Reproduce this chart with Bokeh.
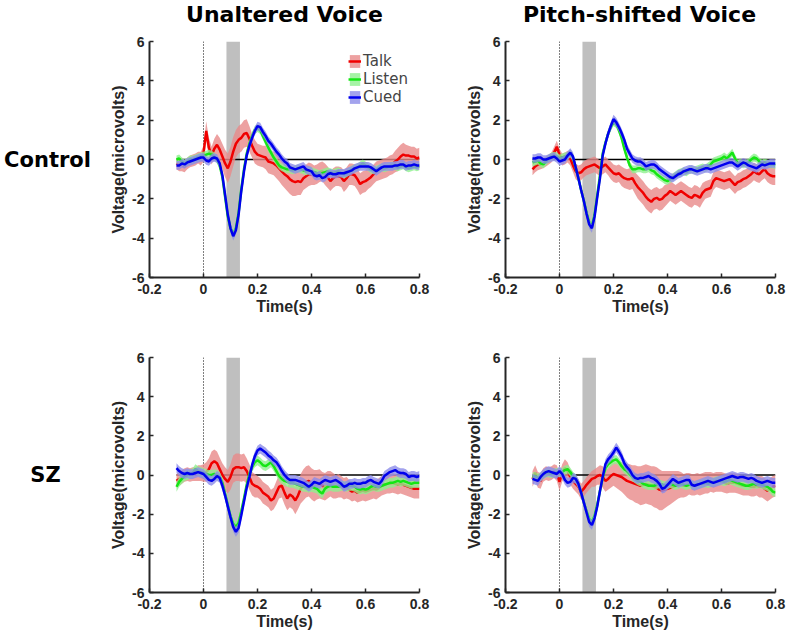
import numpy as np
from bokeh.plotting import figure
from bokeh.layouts import row, column
from bokeh.core.properties import value
from bokeh.models import Legend, LegendItem, FixedTicker, Span, BoxAnnotation, Range1d
from bokeh.embed import file_html
from bokeh.resources import INLINE

# sample times (s), one point every 10 ms
time_s = np.round(np.arange(-0.10, 0.805, 0.01), 2)

# ---- Control, unaltered voice ----
cu_talk = [
    -0.20, -0.30, -0.25, -0.35, -0.20, -0.10, -0.05, 0.00, 0.10, 0.05,
    0.30, 1.45, 0.60, 0.20, 0.55, 0.75, 0.50, 0.15, -0.20, -0.45,
    -0.10, 0.40, 0.80, 1.00, 1.10, 1.30, 1.35, 1.05, 0.70, 0.40,
    0.25, 0.20, 0.15, 0.10, -0.10, -0.15, -0.20, -0.30, -0.45, -0.60,
    -0.75, -0.85, -1.00, -1.10, -1.15, -1.10, -1.15, -0.95, -0.85, -0.75,
    -0.75, -0.80, -0.75, -0.65, -0.60, -0.75, -0.90, -1.10, -0.95, -0.85,
    -0.85, -0.90, -1.10, -0.95, -0.75, -0.75, -0.80, -1.00, -1.25, -1.15,
    -1.10, -1.00, -0.90, -0.75, -0.60, -0.55, -0.50, -0.45, -0.40, -0.30,
    -0.25, -0.10, 0.00, 0.15, 0.25, 0.20, 0.20, 0.15, 0.15, 0.05,
    0.10]
cu_talk_err = [
    0.30, 0.30, 0.35, 0.30, 0.30, 0.30, 0.30, 0.30, 0.30, 0.35,
    0.40, 0.50, 0.50, 0.45, 0.50, 0.55, 0.60, 0.65, 0.70, 0.75,
    0.75, 0.75, 0.70, 0.70, 0.70, 0.70, 0.70, 0.65, 0.60, 0.60,
    0.55, 0.55, 0.55, 0.60, 0.60, 0.60, 0.60, 0.65, 0.65, 0.70,
    0.70, 0.75, 0.75, 0.75, 0.70, 0.70, 0.65, 0.60, 0.60, 0.60,
    0.55, 0.50, 0.50, 0.50, 0.50, 0.55, 0.55, 0.50, 0.50, 0.50,
    0.50, 0.50, 0.55, 0.55, 0.55, 0.55, 0.55, 0.55, 0.55, 0.55,
    0.55, 0.50, 0.50, 0.50, 0.50, 0.50, 0.50, 0.50, 0.50, 0.50,
    0.50, 0.55, 0.60, 0.60, 0.60, 0.55, 0.50, 0.50, 0.50, 0.50,
    0.50]
cu_listen = [
    0.00, 0.05, -0.10, -0.20, -0.10, 0.00, 0.00, 0.05, 0.10, 0.15,
    0.20, 0.25, 0.30, 0.25, 0.15, 0.00, -0.30, -0.90, -1.90, -2.90,
    -3.50, -3.80, -3.50, -2.70, -1.50, -0.50, 0.30, 0.80, 1.20, 1.50,
    1.60, 1.50, 1.20, 0.90, 0.60, 0.35, 0.10, -0.10, -0.30, -0.40,
    -0.45, -0.50, -0.50, -0.55, -0.50, -0.45, -0.50, -0.55, -0.60, -0.55,
    -0.60, -0.65, -0.70, -0.75, -0.70, -0.65, -0.60, -0.65, -0.70, -0.65,
    -0.60, -0.70, -0.75, -0.70, -0.60, -0.50, -0.45, -0.40, -0.30, -0.20,
    -0.30, -0.40, -0.50, -0.55, -0.50, -0.45, -0.40, -0.45, -0.40, -0.35,
    -0.30, -0.35, -0.40, -0.35, -0.30, -0.40, -0.45, -0.40, -0.35, -0.40,
    -0.35]
cu_cued = [
    -0.30, -0.30, -0.20, -0.25, -0.15, -0.10, -0.05, 0.00, 0.05, 0.10,
    0.10, -0.05, -0.10, 0.05, 0.10, 0.05, -0.20, -0.80, -1.80, -2.80,
    -3.50, -3.90, -3.60, -2.80, -1.60, -0.60, 0.20, 0.70, 1.10, 1.45,
    1.70, 1.65, 1.40, 1.20, 0.95, 0.80, 0.60, 0.40, 0.25, 0.05,
    -0.10, -0.20, -0.40, -0.45, -0.50, -0.45, -0.40, -0.35, -0.50, -0.55,
    -0.60, -0.80, -0.85, -0.80, -0.95, -0.90, -0.75, -0.70, -0.75, -0.75,
    -0.70, -0.70, -0.70, -0.65, -0.60, -0.55, -0.45, -0.40, -0.35, -0.35,
    -0.35, -0.35, -0.40, -0.50, -0.60, -0.50, -0.40, -0.35, -0.35, -0.35,
    -0.35, -0.30, -0.30, -0.25, -0.25, -0.35, -0.30, -0.30, -0.25, -0.30,
    -0.30]

# ---- Control, pitch-shifted voice ----
cp_talk = [
    -0.50, -0.35, -0.25, -0.25, -0.20, -0.10, 0.00, 0.10, 0.35, 0.65,
    0.25, 0.00, 0.05, 0.15, 0.05, -0.30, -0.60, -0.70, -0.65, -0.50,
    -0.40, -0.35, -0.30, -0.25, -0.35, -0.45, -0.35, -0.25, -0.40, -0.55,
    -0.70, -0.75, -0.70, -0.85, -0.95, -1.00, -1.00, -0.95, -1.20, -1.40,
    -1.55, -1.70, -1.90, -2.05, -2.15, -2.00, -1.95, -2.05, -2.00, -1.85,
    -1.75, -1.60, -1.70, -1.80, -1.70, -1.60, -1.70, -1.80, -1.90, -1.95,
    -1.80, -1.85, -1.95, -1.70, -1.55, -1.50, -1.45, -1.10, -0.95, -1.00,
    -1.05, -1.10, -1.05, -1.00, -1.15, -1.30, -1.15, -1.10, -1.00, -0.95,
    -0.85, -0.75, -0.60, -0.70, -0.75, -0.60, -0.50, -0.70, -0.80, -0.85,
    -0.85]
cp_talk_err = [
    0.30, 0.30, 0.30, 0.25, 0.25, 0.25, 0.25, 0.25, 0.30, 0.30,
    0.30, 0.30, 0.30, 0.30, 0.35, 0.35, 0.40, 0.40, 0.40, 0.40,
    0.40, 0.40, 0.40, 0.40, 0.40, 0.40, 0.40, 0.40, 0.40, 0.45,
    0.45, 0.45, 0.45, 0.50, 0.50, 0.50, 0.55, 0.55, 0.55, 0.60,
    0.60, 0.60, 0.60, 0.60, 0.60, 0.55, 0.55, 0.55, 0.55, 0.55,
    0.50, 0.50, 0.50, 0.50, 0.50, 0.50, 0.50, 0.50, 0.50, 0.50,
    0.50, 0.50, 0.50, 0.50, 0.45, 0.45, 0.45, 0.45, 0.45, 0.45,
    0.45, 0.45, 0.45, 0.45, 0.45, 0.45, 0.45, 0.45, 0.45, 0.45,
    0.45, 0.45, 0.45, 0.45, 0.45, 0.45, 0.45, 0.45, 0.45, 0.45,
    0.45]
cp_listen = [
    -0.15, -0.10, -0.05, -0.20, -0.25, -0.10, 0.05, 0.15, 0.20, 0.15,
    0.05, 0.10, 0.15, 0.20, 0.30, 0.10, -0.40, -0.95, -1.55, -2.10,
    -2.70, -3.20, -3.40, -2.80, -1.80, -0.80, 0.30, 0.85, 1.30, 1.65,
    1.90, 1.80, 1.50, 1.10, 0.55, 0.10, -0.30, -0.50, -0.50, -0.45,
    -0.45, -0.50, -0.50, -0.45, -0.55, -0.60, -0.75, -0.85, -0.95, -1.05,
    -1.10, -1.00, -0.90, -0.80, -0.70, -0.65, -0.60, -0.65, -0.55, -0.50,
    -0.55, -0.50, -0.45, -0.40, -0.45, -0.35, -0.25, -0.10, -0.05, 0.00,
    0.05, 0.15, 0.05, 0.20, 0.35, 0.05, -0.20, -0.15, -0.25, -0.20,
    -0.15, 0.00, 0.10, 0.05, -0.10, -0.20, -0.15, -0.20, -0.25, -0.25,
    -0.30]
cp_cued = [
    0.05, 0.05, 0.10, 0.10, 0.00, 0.00, 0.05, 0.10, 0.15, 0.05,
    -0.10, -0.05, 0.00, 0.20, 0.35, 0.15, -0.40, -0.95, -1.55, -2.10,
    -2.75, -3.30, -3.50, -2.90, -1.90, -0.95, 0.20, 0.80, 1.30, 1.70,
    2.05, 1.90, 1.65, 1.35, 1.00, 0.55, 0.30, 0.05, -0.05, -0.10,
    -0.10, -0.20, -0.35, -0.30, -0.25, -0.25, -0.35, -0.50, -0.60, -0.70,
    -0.80, -0.90, -0.95, -0.85, -0.75, -0.70, -0.60, -0.55, -0.50, -0.50,
    -0.55, -0.60, -0.55, -0.50, -0.45, -0.45, -0.50, -0.45, -0.40, -0.35,
    -0.30, -0.25, -0.20, -0.15, -0.15, -0.25, -0.35, -0.25, -0.15, -0.20,
    -0.30, -0.35, -0.40, -0.45, -0.35, -0.25, -0.30, -0.25, -0.20, -0.20,
    -0.20]

# ---- SZ, unaltered voice ----
su_talk = [
    -0.30, -0.20, -0.10, 0.00, 0.05, 0.00, 0.05, 0.05, 0.10, 0.10,
    0.10, 0.15, 0.30, 0.60, 0.70, 0.60, 0.30, 0.00, -0.20, -0.35,
    -0.10, 0.30, 0.40, 0.40, 0.35, 0.40, 0.20, -0.10, -0.45, -0.55,
    -0.60, -0.70, -0.90, -1.00, -1.10, -1.30, -1.20, -0.90, -0.60, -0.55,
    -0.90, -1.20, -1.00, -1.10, -1.30, -1.05, -0.70, -0.50, -0.35, -0.30,
    -0.45, -0.55, -0.50, -0.45, -0.55, -0.60, -0.50, -0.45, -0.55, -0.60,
    -0.55, -0.60, -0.70, -0.65, -0.75, -0.85, -0.80, -0.90, -0.85, -0.80,
    -0.85, -0.80, -0.75, -0.70, -0.75, -0.65, -0.55, -0.50, -0.45, -0.45,
    -0.40, -0.45, -0.50, -0.45, -0.50, -0.55, -0.60, -0.65, -0.70, -0.70,
    -0.70]
su_talk_err = [
    0.35, 0.35, 0.35, 0.35, 0.35, 0.35, 0.35, 0.35, 0.40, 0.40,
    0.45, 0.50, 0.55, 0.60, 0.60, 0.60, 0.60, 0.60, 0.60, 0.60,
    0.65, 0.70, 0.70, 0.70, 0.70, 0.70, 0.65, 0.65, 0.60, 0.60,
    0.55, 0.55, 0.55, 0.55, 0.55, 0.55, 0.55, 0.60, 0.60, 0.60,
    0.60, 0.60, 0.65, 0.65, 0.70, 0.70, 0.75, 0.80, 0.80, 0.80,
    0.80, 0.80, 0.75, 0.75, 0.70, 0.70, 0.70, 0.65, 0.65, 0.60,
    0.60, 0.55, 0.55, 0.55, 0.50, 0.50, 0.50, 0.50, 0.50, 0.50,
    0.50, 0.50, 0.50, 0.50, 0.50, 0.50, 0.50, 0.50, 0.50, 0.50,
    0.50, 0.50, 0.50, 0.50, 0.50, 0.50, 0.50, 0.50, 0.50, 0.50,
    0.50]
su_listen = [
    -0.60, -0.35, -0.20, -0.05, 0.00, 0.05, 0.10, 0.30, 0.20, 0.15,
    0.10, 0.05, 0.00, 0.00, 0.05, 0.00, -0.10, -0.40, -0.95, -1.55,
    -2.10, -2.50, -2.65, -2.45, -1.85, -1.20, -0.50, 0.05, 0.40, 0.65,
    0.75, 0.65, 0.50, 0.45, 0.55, 0.65, 0.45, 0.20, -0.05, -0.20,
    -0.30, -0.35, -0.40, -0.40, -0.45, -0.50, -0.55, -0.60, -0.60, -0.65,
    -0.60, -0.65, -0.70, -0.85, -0.95, -0.70, -0.60, -0.55, -0.60, -0.60,
    -0.60, -0.55, -0.55, -0.60, -0.55, -0.55, -0.60, -0.70, -0.75, -0.70,
    -0.75, -0.70, -0.60, -0.55, -0.60, -0.60, -0.55, -0.50, -0.45, -0.40,
    -0.40, -0.35, -0.30, -0.35, -0.30, -0.35, -0.40, -0.45, -0.40, -0.40,
    -0.40]
su_cued = [
    0.35, 0.20, 0.10, 0.05, 0.10, 0.05, 0.05, 0.10, 0.15, 0.10,
    0.05, -0.10, -0.25, -0.30, -0.20, -0.05, -0.15, -0.55, -1.05, -1.60,
    -2.15, -2.65, -2.90, -2.70, -2.05, -1.35, -0.65, -0.10, 0.50, 0.95,
    1.25, 1.35, 1.25, 1.15, 1.00, 0.90, 0.75, 0.65, 0.45, 0.20,
    0.00, -0.15, -0.25, -0.25, -0.25, -0.30, -0.35, -0.40, -0.50, -0.60,
    -0.50, -0.35, -0.40, -0.45, -0.35, -0.25, -0.30, -0.35, -0.30, -0.25,
    -0.35, -0.45, -0.60, -0.55, -0.45, -0.45, -0.40, -0.45, -0.45, -0.40,
    -0.40, -0.30, -0.25, -0.35, -0.40, -0.45, -0.30, -0.05, 0.05, 0.15,
    0.20, 0.25, 0.15, 0.10, 0.10, 0.05, -0.10, -0.05, -0.05, -0.10,
    -0.05]

# ---- SZ, pitch-shifted voice ----
sp_talk = [
    -0.20, 0.10, -0.25, -0.30, 0.00, 0.10, 0.05, 0.10, 0.20, 0.10,
    -0.35, 0.10, 0.35, 0.20, -0.10, -0.30, -0.45, -0.60, -0.85, -0.70,
    -0.50, -0.35, -0.20, -0.15, -0.05, 0.00, -0.10, -0.30, -0.20, -0.05,
    0.05, 0.00, -0.05, -0.10, -0.20, -0.30, -0.35, -0.40, -0.45, -0.50,
    -0.55, -0.50, -0.45, -0.50, -0.55, -0.60, -0.65, -0.75, -0.80, -0.75,
    -0.70, -0.65, -0.60, -0.55, -0.50, -0.50, -0.55, -0.50, -0.45, -0.50,
    -0.50, -0.45, -0.50, -0.45, -0.40, -0.40, -0.35, -0.40, -0.35, -0.35,
    -0.35, -0.40, -0.45, -0.40, -0.40, -0.40, -0.45, -0.50, -0.55, -0.55,
    -0.55, -0.60, -0.60, -0.55, -0.60, -0.60, -0.70, -0.80, -0.70, -0.60,
    -0.55]
sp_talk_err = [
    0.40, 0.40, 0.40, 0.40, 0.35, 0.35, 0.35, 0.35, 0.35, 0.40,
    0.45, 0.45, 0.45, 0.45, 0.40, 0.40, 0.40, 0.40, 0.40, 0.40,
    0.40, 0.40, 0.40, 0.45, 0.45, 0.50, 0.55, 0.55, 0.55, 0.60,
    0.60, 0.65, 0.70, 0.75, 0.80, 0.85, 0.90, 0.90, 0.95, 0.95,
    1.00, 1.00, 1.00, 1.00, 1.00, 1.05, 1.05, 1.05, 1.00, 0.95,
    0.90, 0.85, 0.80, 0.75, 0.70, 0.65, 0.60, 0.60, 0.55, 0.55,
    0.55, 0.55, 0.55, 0.55, 0.55, 0.55, 0.50, 0.50, 0.50, 0.50,
    0.50, 0.50, 0.50, 0.50, 0.50, 0.50, 0.50, 0.50, 0.50, 0.50,
    0.50, 0.50, 0.50, 0.50, 0.55, 0.55, 0.55, 0.55, 0.55, 0.55,
    0.55]
sp_listen = [
    -0.10, -0.05, -0.15, -0.10, 0.00, 0.10, 0.10, 0.05, 0.10, 0.15,
    0.10, 0.15, 0.25, 0.30, 0.15, -0.05, -0.20, -0.45, -0.90, -1.40,
    -1.85, -2.25, -2.40, -2.10, -1.50, -0.80, -0.15, 0.35, 0.55, 0.65,
    0.75, 0.80, 0.65, 0.45, 0.30, 0.20, 0.05, -0.10, -0.20, -0.30,
    -0.35, -0.45, -0.50, -0.55, -0.55, -0.55, -0.50, -0.45, -0.50, -0.55,
    -0.50, -0.45, -0.50, -0.55, -0.50, -0.45, -0.50, -0.55, -0.50, -0.50,
    -0.55, -0.50, -0.45, -0.45, -0.40, -0.45, -0.40, -0.35, -0.30, -0.30,
    -0.30, -0.35, -0.30, -0.25, -0.30, -0.35, -0.40, -0.45, -0.50, -0.55,
    -0.55, -0.50, -0.45, -0.50, -0.45, -0.50, -0.55, -0.60, -0.70, -0.85,
    -0.90]
sp_cued = [
    -0.20, -0.25, -0.30, -0.10, 0.05, 0.15, 0.20, 0.15, 0.10, 0.05,
    0.20, 0.05, -0.25, -0.40, -0.35, -0.15, -0.20, -0.45, -0.90, -1.40,
    -1.90, -2.40, -2.55, -2.20, -1.60, -0.80, -0.10, 0.55, 0.80, 0.95,
    1.15, 1.40, 1.20, 0.95, 0.60, 0.40, 0.25, 0.00, -0.15, -0.20,
    -0.15, -0.15, -0.10, -0.05, -0.15, -0.20, -0.30, -0.45, -0.70, -0.65,
    -0.50, -0.35, -0.20, -0.30, -0.40, -0.35, -0.30, -0.25, -0.25, -0.50,
    -0.55, -0.50, -0.45, -0.40, -0.35, -0.30, -0.35, -0.40, -0.35, -0.30,
    -0.25, -0.20, -0.15, -0.10, -0.05, -0.10, -0.15, -0.10, -0.10, -0.15,
    -0.20, -0.15, -0.20, -0.30, -0.35, -0.40, -0.35, -0.30, -0.35, -0.40,
    -0.40]

# narrow error bands of the Listen and Cued traces (one value per panel)
listen_err = [0.20, 0.20, 0.25, 0.22]
cued_err = [0.22, 0.22, 0.25, 0.25]

conditions = ["Talk", "Listen", "Cued"]
x_ticks = [-0.2, 0, 0.2, 0.4, 0.6, 0.8]
x_tick_labels = ["-0.2", "0", "0.2", "0.4", "0.6", "0.8"]
y_ticks = [-6, -4, -2, 0, 2, 4, 6]
y_tick_labels = ["-6", "-4", "-2", "0", "2", "4", "6"]
window_s = [0.085, 0.135]          # grey analysis window
zero_line_y = [0.0, 0.0]
col_titles = ["Unaltered Voice", "Pitch-shifted Voice"]
row_labels = ["Control", "SZ"]

line_colors = {"Talk": "#f00000", "Listen": "#14e614", "Cued": "#0000ee"}
band_colors = {"Talk": "#e98a8a", "Listen": "#8ef08e", "Cued": "#8c8ce8"}
AX = "#262626"

# layout in px: (left border, right border, width) per column, (top, bottom, height) per row
COLS = [(49, 44, 363), (40, 14, 326)]
ROWS = [(10, 58, 304), (22, 43, 300)]
LABEL_W = 100
HEADER_H = 31


def blank(width, height, x_range, y_range, borders=(0, 0, 0, 0)):
    left, right, top, bottom = borders
    p = figure(width=width, height=height, x_range=x_range, y_range=y_range,
               output_backend="svg", toolbar_location=None,
               x_axis_location=None, y_axis_location=None,
               min_border_left=left, min_border_right=right,
               min_border_top=top, min_border_bottom=bottom)
    p.outline_line_color = None
    p.grid.grid_line_color = None
    return p


def make_panel(series, errs, col, rw, legend=False):
    left, right, width = COLS[col]
    top, bottom, height = ROWS[rw]
    p = figure(width=width, height=height, x_range=Range1d(-0.2, 0.8), y_range=Range1d(-6, 6),
               output_backend="svg", toolbar_location=None,
               min_border_left=left, min_border_right=right,
               min_border_top=top, min_border_bottom=bottom)
    p.outline_line_color = None
    p.grid.grid_line_color = None

    p.add_layout(BoxAnnotation(left=window_s[0], right=window_s[1], fill_color="#bfbfbf",
                               fill_alpha=1.0, line_color=None, level="underlay"))
    p.add_layout(Span(location=0, dimension="height", line_color="black", line_width=1,
                      line_dash="1 2", level="underlay"))
    p.line([time_s[0], time_s[-1]], zero_line_y, line_color="black", line_width=1.3)

    items = []
    for name, vals, err in zip(conditions, series, errs):
        m = np.array(vals)
        e = np.array(err) * np.ones_like(m)
        band = p.varea(x=time_s, y1=m - e, y2=m + e, fill_color=band_colors[name], fill_alpha=0.8)
        ln = p.line(time_s, m, line_color=line_colors[name], line_width=2.5)
        items.append(LegendItem(label=name, renderers=[band, ln]))

    if legend:
        lg = Legend(items=items, location="top_right", margin=11, padding=1, spacing=0,
                    glyph_width=13, glyph_height=16, label_height=16, label_standoff=2,
                    label_text_font="DejaVu Sans", label_text_font_size="15px",
                    border_line_color=None, background_fill_alpha=0)
        p.add_layout(lg)

    p.xaxis.ticker = FixedTicker(ticks=x_ticks)
    p.yaxis.ticker = FixedTicker(ticks=y_ticks)
    p.xaxis.major_label_overrides = dict(zip(x_ticks, x_tick_labels))
    p.yaxis.major_label_overrides = dict(zip(y_ticks, y_tick_labels))
    p.xaxis.axis_label = "Time(s)"
    p.yaxis.axis_label = "Voltage(microvolts)"
    p.xaxis.major_label_standoff = 6
    p.yaxis.major_label_standoff = 5
    p.xaxis.axis_label_standoff = 1
    p.yaxis.axis_label_standoff = 2
    for ax in (p.xaxis[0], p.yaxis[0]):
        ax.axis_line_color = AX
        ax.axis_line_width = 2
        ax.major_tick_line_color = AX
        ax.major_tick_line_width = 1.5
        ax.major_tick_in = 4
        ax.major_tick_out = 0
        ax.minor_tick_line_color = None
        ax.major_label_text_font = "Liberation Sans"
        ax.major_label_text_font_style = "bold"
        ax.major_label_text_font_size = "14px"
        ax.major_label_text_color = AX
        ax.axis_label_text_font = "Liberation Sans"
        ax.axis_label_text_font_style = "bold"
        ax.axis_label_text_font_size = "16px"
        ax.axis_label_text_color = AX
    return p


def header(col, title):
    left, right, width = COLS[col]
    if col == 0:
        left, width = left + LABEL_W, width + LABEL_W
    h = blank(width, HEADER_H, Range1d(-0.2, 0.8), Range1d(0, HEADER_H), (left, right, 0, 0))
    h.text(x=[0.3], y=[HEADER_H - 14], text=[title], text_align="center", text_baseline="middle",
           text_font=value("DejaVu Sans"), text_font_style="bold", text_font_size="22px",
           text_color="black")
    return h


def row_label(rw, text, xpos):
    top, bottom, height = ROWS[rw]
    lab = blank(LABEL_W, height, Range1d(0, LABEL_W), Range1d(-6, 6), (0, 0, top, bottom))
    lab.text(x=[xpos], y=[0], text=[text], text_align="center", text_baseline="middle",
             text_font=value("DejaVu Sans"), text_font_style="bold", text_font_size="21px",
             text_color="black")
    return lab


p1 = make_panel([cu_talk, cu_listen, cu_cued], [cu_talk_err, listen_err[0], cued_err[0]], 0, 0, legend=True)
p2 = make_panel([cp_talk, cp_listen, cp_cued], [cp_talk_err, listen_err[1], cued_err[1]], 1, 0)
p3 = make_panel([su_talk, su_listen, su_cued], [su_talk_err, listen_err[2], cued_err[2]], 0, 1)
p4 = make_panel([sp_talk, sp_listen, sp_cued], [sp_talk_err, listen_err[3], cued_err[3]], 1, 1)

layout = column(
    row(header(0, col_titles[0]), header(1, col_titles[1])),
    row(row_label(0, row_labels[0], 47), p1, p2),
    row(row_label(1, row_labels[1], 45), p3, p4),
)
open("out.html", "w").write(file_html(layout, INLINE))
